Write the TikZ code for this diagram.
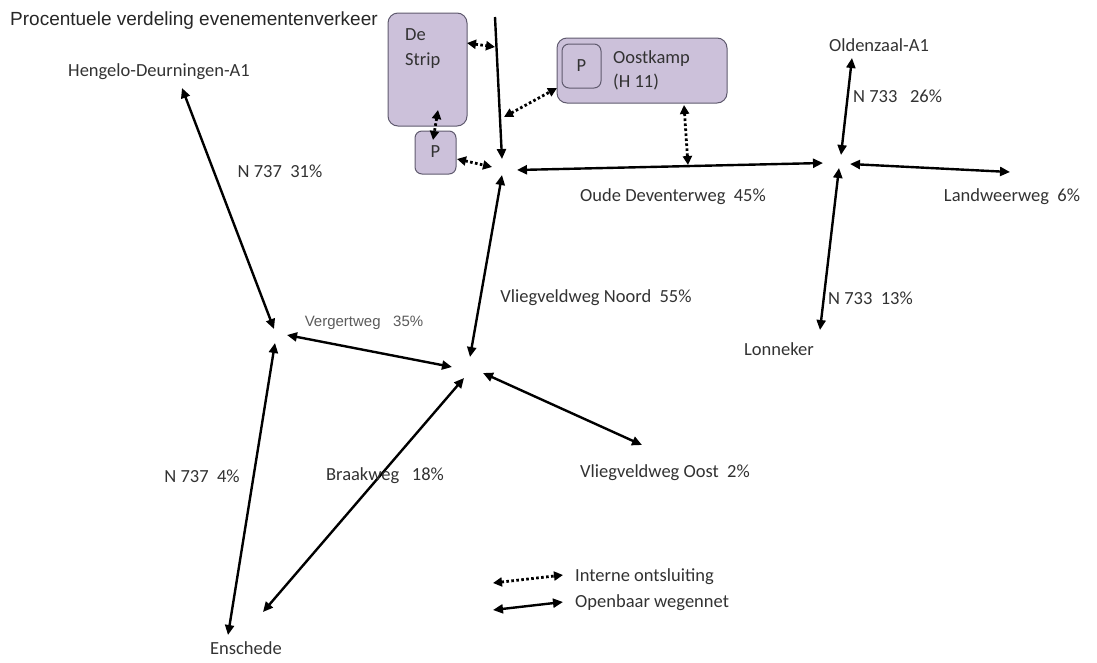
\documentclass[tikz,border=0pt]{standalone}
\usepackage{fontspec}
\setmainfont{Carlito}
\newfontfamily\arialf{Liberation Sans}
\usetikzlibrary{arrows.meta}
\definecolor{boxfill}{RGB}{204,193,218}
\definecolor{boxline}{RGB}{95,90,110}
\definecolor{txt}{RGB}{50,50,50}
\tikzset{
  road/.style={line width=2.4pt, {Triangle[length=10pt,width=9pt]}-{Triangle[length=10pt,width=9pt]}},
  oneway/.style={line width=2.4pt, -{Triangle[length=10pt,width=9pt]}},
  intern/.style={line width=2.8pt, dash pattern=on 2.6pt off 2.4pt, {Triangle[length=9pt,width=9pt]}-{Triangle[length=9pt,width=9pt]}},
  lbl/.style={font=\fontsize{18.5}{22}\selectfont, text=txt, inner sep=0pt},
  albl/.style={font=\arialf\fontsize{15}{18}\selectfont, text=txt!80, inner sep=0pt},
  area/.style={draw=boxline, fill=boxfill, line width=1pt, rounded corners=10pt}
}
\begin{document}
\begin{tikzpicture}[x=1pt,y=-1pt]
\useasboundingbox (0,0) rectangle (1097,662);
% title
\node[font=\arialf\fontsize{19}{22}\selectfont, text=black!85, inner sep=0pt, anchor=west] (title) at (10,21) {Procentuele verdeling evenementenverkeer};
% areas
\draw[area] (388,13) rectangle (467,126);
\node[lbl, anchor=north west, align=left, font=\fontsize{18.5}{25}\selectfont] (destrip) at (405,28) {De\\Strip};
\draw[area, rounded corners=7pt] (415,131) rectangle (456,174);
\node[lbl] (p1) at (435.5,152) {P};
\draw[area] (557,38) rectangle (727,103);
\draw[area, rounded corners=7pt] (562,44) rectangle (601,88);
\node[lbl] (p2) at (581.5,66) {P};
\node[lbl, anchor=north west, align=left, font=\fontsize{18.5}{24}\selectfont] (oostkamp) at (613,50) {Oostkamp\\(H 11)};
% endpoints
\coordinate (vtop) at (495,17);
\coordinate (vbot) at (502,159);
\coordinate (dsR) at (467,43);
\coordinate (vlA) at (495,47);
\coordinate (dsB) at (438,110);
\coordinate (pT) at (433,140);
\coordinate (pR) at (457,159);
\coordinate (j1P) at (492,167);
\coordinate (vlB) at (504,117);
\coordinate (okL) at (557,88);
\coordinate (okB) at (684,105);
\coordinate (odw) at (688,165);
\coordinate (j1E) at (517,170);
\coordinate (j2W) at (823,163);
\coordinate (oldz) at (852,58);
\coordinate (j2N) at (841,155);
\coordinate (j2E) at (850,164);
\coordinate (landw) at (1010,172);
\coordinate (j2S) at (839,168);
\coordinate (lonn) at (820,330);
\coordinate (j1S) at (502,175);
\coordinate (j4N) at (470,357);
\coordinate (heng) at (182,88);
\coordinate (j3N) at (274,329);
\coordinate (j3E) at (287,335);
\coordinate (j4W) at (452,367);
\coordinate (j3S) at (275,343);
\coordinate (ensA) at (228,635);
\coordinate (j4SW) at (464,378);
\coordinate (ensB) at (263,612);
\coordinate (j4SE) at (483,373);
\coordinate (vloost) at (642,445);
\coordinate (lg1a) at (493,583);
\coordinate (lg1b) at (563,575);
\coordinate (lg2a) at (493,610);
\coordinate (lg2b) at (563,602);
% roads
\draw[oneway] (vtop) -- (vbot);
\draw[road] (j1E) -- (j2W);
\draw[road] (oldz) -- (j2N);
\draw[road] (j2E) -- (landw);
\draw[road] (j2S) -- (lonn);
\draw[road] (j1S) -- (j4N);
\draw[road] (heng) -- (j3N);
\draw[road] (j3E) -- (j4W);
\draw[road] (j3S) -- (ensA);
\draw[road] (j4SW) -- (ensB);
\draw[road] (j4SE) -- (vloost);
% internal
\draw[intern] (dsR) -- (vlA);
\draw[intern] (dsB) -- (pT);
\draw[intern] (pR) -- (j1P);
\draw[intern] (vlB) -- (okL);
\draw[intern] (okB) -- (odw);
% labels
\node[lbl] (lheng) at (159,72) {Hengelo-Deurningen-A1};
\node[lbl] (l737a) at (280,171) {N 737\ \ 31\%};
\node[albl] (lverg) at (364,323) {Vergertweg\ \ \ 35\%};
\node[lbl] (lvnoord) at (596,298) {Vliegveldweg Noord\ \ 55\%};
\node[lbl] (lodw) at (673,197) {Oude Deventerweg\ \ 45\%};
\node[lbl] (loldz) at (879,45) {Oldenzaal-A1};
\node[lbl, anchor=west] (l733a) at (853,96) {N 733\ \ \ 26\%};
\node[lbl] (llandw) at (1012,197) {Landweerweg\ \ 6\%};
\node[lbl, anchor=west] (l733b) at (828,298) {N 733\ \ 13\%};
\node[lbl] (llonn) at (779,349) {Lonneker};
\node[lbl] (l737b) at (202,476) {N 737\ \ 4\%};
\node[lbl] (lbraak) at (385,476) {Braakweg\ \ \ 18\%};
\node[lbl] (lvoost) at (665,473) {Vliegveldweg Oost\ \ 2\%};
\node[lbl] (lens) at (246,648) {Enschede};
% legend
\draw[intern] (lg1a) -- (lg1b);
\draw[road] (lg2a) -- (lg2b);
\node[lbl, anchor=west] (lgint) at (575,577) {Interne ontsluiting};
\node[lbl, anchor=west] (lgopen) at (575,603) {Openbaar wegennet};
\end{tikzpicture}
\end{document}
